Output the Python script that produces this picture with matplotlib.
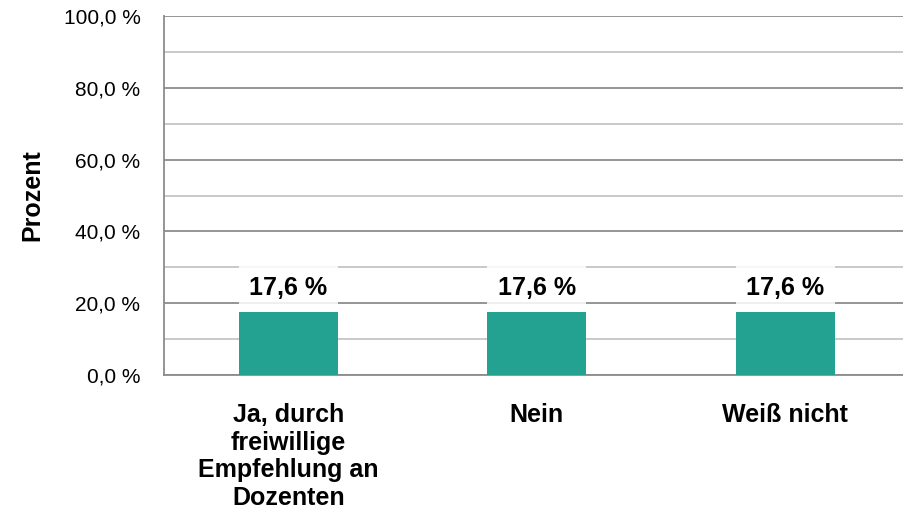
import numpy as np
import matplotlib
matplotlib.use("Agg")
import matplotlib.pyplot as plt
from matplotlib.ticker import MultipleLocator, FuncFormatter

plt.rcParams['font.family'] = ['Liberation Sans', 'DejaVu Sans']

# data
categories = ["Ja, durch\nfreiwillige\nEmpfehlung an\nDozenten", "Nein", "Weiß nicht"]
values = [17.6, 17.6, 17.6]
bar_color = "#23a191"


def pct(v, pos=None):
    return ("%.1f %%" % v).replace(".", ",")


fig = plt.figure(figsize=(9.04, 5.18), dpi=100)
ax = fig.add_axes([164 / 904, 143 / 518, 745.5 / 904, 359 / 518])

x = np.arange(len(categories))
ax.bar(x, values, width=0.4, color=bar_color, zorder=3)

ax.set_xlim(-0.5, len(categories) - 0.5)
ax.set_ylim(0, 100)
ax.yaxis.set_major_locator(MultipleLocator(20))
ax.yaxis.set_minor_locator(MultipleLocator(10))
ax.yaxis.set_major_formatter(FuncFormatter(pct))
ax.grid(axis="y", which="major", color="#8c8c8c", linewidth=1.3, zorder=0)
ax.grid(axis="y", which="minor", color="#c0c0c0", linewidth=1.2, zorder=0)
ax.set_axisbelow(True)

ax.set_xticks(x)
ax.set_xticklabels(categories, fontsize=18, fontweight="bold", linespacing=1.2)
ax.tick_params(axis="x", length=0, pad=20)
ax.tick_params(axis="y", which="both", length=0, pad=17, labelsize=15, labelcolor="#000000")

for s in ["top", "right"]:
    ax.spines[s].set_visible(False)
ax.spines["left"].set_color("#8c8c8c")
ax.spines["left"].set_linewidth(1.3)
ax.spines["bottom"].set_color("#8c8c8c")
ax.spines["bottom"].set_linewidth(1.3)

ax.set_ylabel("Prozent", fontsize=18, fontweight="bold", labelpad=14)

for xi, v in zip(x, values):
    ax.annotate(pct(v), (xi, v), xytext=(0, 17), textcoords="offset points",
                ha="center", va="center", fontsize=18, fontweight="bold", zorder=4,
                bbox=dict(boxstyle="square,pad=0.42", facecolor="white", edgecolor="none", alpha=0.85))

fig.savefig("out.png", dpi=100)
